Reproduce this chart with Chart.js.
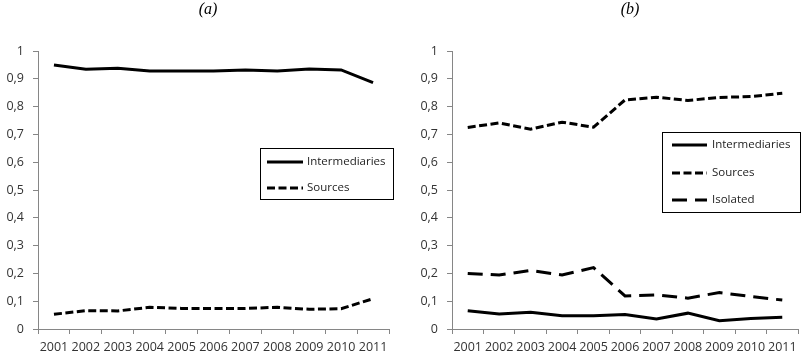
<!DOCTYPE html>
<html><head><meta charset="utf-8">
<script src="https://cdn.jsdelivr.net/npm/chart.js@4/dist/chart.umd.min.js"></script>
<style>
html,body{margin:0;padding:0;background:#fff;}
#wrap{position:relative;width:803px;height:360px;}
#ca{position:absolute;left:0;top:0;}
#cb{position:absolute;left:400px;top:0;}
</style></head>
<body><div id="wrap"><canvas id="ca" width="400" height="360"></canvas><canvas id="cb" width="403" height="360"></canvas></div>
<script>
const years = ['2001','2002','2003','2004','2005','2006','2007','2008','2009','2010','2011'];
const yTicks = ['0','0,1','0,2','0,3','0,4','0,5','0,6','0,7','0,8','0,9','1'];
const titleA = '(a)';
const titleB = '(b)';
const seriesNames = ['Intermediaries','Sources','Isolated'];
// panel (a)
const aIntermediaries = [0.950,0.934,0.938,0.928,0.928,0.928,0.932,0.928,0.935,0.932,0.886];
const aSources        = [0.053,0.066,0.065,0.078,0.074,0.074,0.074,0.078,0.071,0.073,0.109];
// panel (b)
const bIntermediaries = [0.066,0.054,0.060,0.048,0.048,0.052,0.036,0.057,0.030,0.038,0.042];
const bSources        = [0.725,0.741,0.719,0.744,0.726,0.824,0.834,0.822,0.833,0.836,0.848];
const bIsolated       = [0.200,0.194,0.211,0.194,0.221,0.119,0.123,0.111,0.131,0.117,0.104];

const FONT = 'Open Sans';
const dashes = [[], [8,3.5], [15,8]];

function ds(label, data, i){
  return {label, data, borderColor:'#000', backgroundColor:'#000', borderWidth:3,
    borderDash:dashes[i], pointRadius:0, tension:0, fill:false, borderCapStyle:'butt'};
}

const boxLegend = {
  id:'boxLegend',
  afterDraw(chart, args, o){
    const ctx = chart.ctx;
    ctx.save();
    // panel title
    ctx.fillStyle = '#000';
    ctx.font = 'italic 16px "Liberation Serif"';
    ctx.textAlign = 'center'; ctx.textBaseline = 'middle';
    ctx.fillText(o.title, o.titleX, o.titleY);
    // legend box
    ctx.strokeStyle = '#000'; ctx.lineWidth = 1;
    ctx.strokeRect(o.x+0.5, o.y+0.5, o.w, o.h);
    chart.data.datasets.forEach((d,i)=>{
      const yy = o.rows[i];
      ctx.beginPath();
      ctx.setLineDash(d.borderDash||[]);
      ctx.lineWidth = d.borderWidth;
      ctx.strokeStyle = d.borderColor;
      ctx.moveTo(o.lx0, yy); ctx.lineTo(o.lx1, yy); ctx.stroke();
      ctx.setLineDash([]);
      ctx.fillStyle = '#222';
      ctx.font = '11.5px "'+FONT+'"';
      ctx.textBaseline = 'middle'; ctx.textAlign = 'left';
      ctx.fillText(d.label, o.tx, yy);
    });
    ctx.restore();
  }
};

function makeChart(id, datasets, leg, lay){
  return new Chart(document.getElementById(id), {
    type:'line',
    data:{labels:years, datasets},
    plugins:[boxLegend],
    options:{
      responsive:false, animation:false,
      layout:{padding:{left:0,right:lay.right,top:51,bottom:0}},
      plugins:{
        legend:{display:false}, tooltip:{enabled:false}, title:{display:false},
        boxLegend:leg
      },
      scales:{
        x:{offset:true,
          grid:{display:true, offset:true, drawOnChartArea:false, drawTicks:true, tickLength:5, color:'#868686'},
          border:{display:true, color:'#868686', width:1},
          ticks:{color:'#333', font:{family:FONT,size:12.5}, maxRotation:0, autoSkip:false, padding:6},
          afterFit:s=>{s.height = 31;}
        },
        y:{min:0, max:1,
          grid:{display:true, drawOnChartArea:false, drawTicks:true, tickLength:5, color:'#868686'},
          border:{display:true, color:'#868686', width:1},
          ticks:{stepSize:0.1, color:'#333', font:{family:FONT,size:12.5}, padding:9,
            callback:(v,i)=>yTicks[i]},
          afterFit:s=>{s.width = lay.left;}
        }
      }
    }
  });
}

makeChart('ca',
  [ds(seriesNames[0], aIntermediaries, 0), ds(seriesNames[1], aSources, 1)],
  {title:titleA, titleX:208, titleY:10,
   x:260, y:148, w:133, h:51, rows:[162,188], lx0:267, lx1:303, tx:307},
  {left:38, right:11});

makeChart('cb',
  [ds(seriesNames[0], bIntermediaries, 0), ds(seriesNames[1], bSources, 1), ds(seriesNames[2], bIsolated, 2)],
  {title:titleB, titleX:230, titleY:10,
   x:262, y:132, w:138, h:80, rows:[145,173,200], lx0:272, lx1:307, tx:312},
  {left:52, right:5});
</script></body></html>
